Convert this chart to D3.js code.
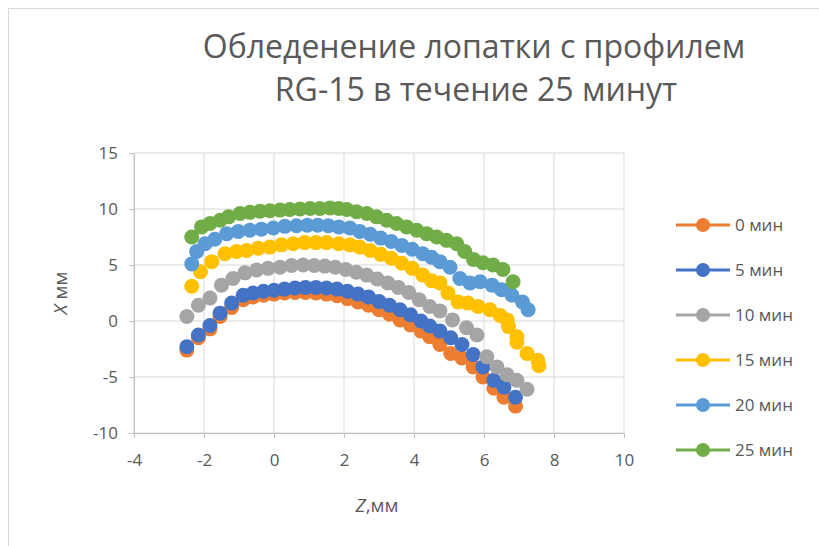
<!DOCTYPE html>
<html>
<head>
<meta charset="utf-8">
<script src="https://cdn.jsdelivr.net/npm/d3@7"></script>
<style>
  body { margin: 0; background: #fff; }
  text { font-family: "Open Sans", "Noto Sans", sans-serif; fill: #595959; }
</style>
</head>
<body>
<div id="chart"></div>
<script>
// Series values (Z, X in mm)
const seriesNames = ["0 мин", "5 мин", "10 мин", "15 мин", "20 мин", "25 мин"];
const seriesColors = ["#ED7D31", "#4472C4", "#A5A5A5", "#FFC000", "#5B9BD5", "#70AD47"];

const z0 = [-2.49, -2.16, -1.83, -1.54, -1.21, -0.88, -0.6, -0.3, 0.0, 0.3, 0.6, 0.9, 1.2, 1.5, 1.8, 2.1, 2.4, 2.7, 3.0, 3.3, 3.6, 3.9, 4.2, 4.45, 4.74, 5.05, 5.37, 5.69, 5.97, 6.28, 6.57, 6.9];
const x0 = [-2.6, -1.5, -0.7, 0.4, 1.2, 1.9, 2.15, 2.3, 2.4, 2.5, 2.55, 2.55, 2.5, 2.4, 2.25, 2.0, 1.7, 1.4, 1.0, 0.6, 0.1, -0.35, -0.9, -1.4, -2.1, -2.9, -3.3, -4.1, -5.0, -6.0, -6.8, -7.6];

const z5 = [-2.49, -2.16, -1.83, -1.54, -1.21, -0.88, -0.6, -0.3, 0.0, 0.3, 0.6, 0.9, 1.2, 1.5, 1.8, 2.1, 2.4, 2.7, 3.0, 3.3, 3.6, 3.9, 4.2, 4.45, 4.74, 5.05, 5.37, 5.69, 5.97, 6.28, 6.57, 6.9];
const x5 = [-2.3, -1.25, -0.4, 0.7, 1.6, 2.3, 2.5, 2.65, 2.75, 2.85, 2.95, 3.0, 3.0, 2.95, 2.85, 2.65, 2.4, 2.15, 1.75, 1.4, 1.0, 0.55, 0.0, -0.45, -0.9, -1.5, -2.1, -3.0, -4.1, -5.3, -5.9, -6.8];

const z10 = [-2.49, -2.16, -1.83, -1.5, -1.17, -0.83, -0.5, -0.17, 0.17, 0.5, 0.83, 1.15, 1.45, 1.75, 2.05, 2.35, 2.65, 2.95, 3.25, 3.55, 3.85, 4.15, 4.45, 4.74, 5.1, 5.5, 5.8, 6.08, 6.37, 6.66, 6.94, 7.23];
const x10 = [0.4, 1.4, 2.05, 3.2, 3.8, 4.3, 4.55, 4.7, 4.8, 4.95, 5.0, 4.95, 4.9, 4.8, 4.6, 4.35, 4.1, 3.75, 3.4, 3.0, 2.55, 1.9, 1.3, 0.9, 0.1, -0.6, -1.25, -3.2, -4.1, -4.8, -5.3, -6.1];

const z15 = [-2.35, -2.1, -1.78, -1.4, -1.07, -0.78, -0.45, -0.12, 0.21, 0.55, 0.88, 1.2, 1.5, 1.85, 2.17, 2.45, 2.75, 3.05, 3.35, 3.65, 3.95, 4.25, 4.5, 4.74, 4.97, 5.26, 5.54, 5.83, 6.17, 6.46, 6.66, 6.7, 6.94, 6.94, 7.23, 7.54, 7.57];
const x15 = [3.1, 4.4, 5.3, 6.0, 6.2, 6.3, 6.5, 6.6, 6.8, 6.9, 7.0, 7.0, 7.0, 6.9, 6.8, 6.6, 6.3, 5.95, 5.6, 5.15, 4.7, 4.1, 3.6, 3.4, 2.5, 1.7, 1.6, 1.3, 1.0, 0.5, 0.1, -0.5, -1.4, -1.9, -2.9, -3.5, -4.0];

const z20 = [-2.35, -2.21, -1.97, -1.69, -1.35, -1.02, -0.69, -0.36, -0.02, 0.31, 0.64, 0.95, 1.25, 1.55, 1.85, 2.17, 2.45, 2.75, 3.05, 3.35, 3.65, 3.95, 4.25, 4.5, 4.74, 5.03, 5.31, 5.6, 5.89, 6.23, 6.5, 6.8, 7.1, 7.26];
const x20 = [5.1, 6.2, 6.9, 7.3, 7.8, 8.0, 8.1, 8.2, 8.3, 8.45, 8.5, 8.55, 8.55, 8.5, 8.4, 8.3, 8.0, 7.75, 7.4, 7.1, 6.75, 6.4, 6.0, 5.7, 5.3, 4.8, 3.8, 3.4, 3.5, 3.2, 2.8, 2.3, 1.7, 1.0];

const z25 = [-2.35, -2.07, -1.83, -1.54, -1.3, -0.97, -0.69, -0.4, -0.12, 0.17, 0.45, 0.74, 1.03, 1.31, 1.6, 1.85, 2.08, 2.36, 2.65, 2.93, 3.22, 3.5, 3.79, 4.08, 4.36, 4.65, 4.93, 5.22, 5.45, 5.7, 5.97, 6.26, 6.54, 6.83];
const x25 = [7.5, 8.4, 8.7, 9.0, 9.3, 9.6, 9.7, 9.8, 9.85, 9.9, 9.95, 10.0, 10.05, 10.05, 10.1, 10.05, 9.95, 9.75, 9.6, 9.3, 9.0, 8.7, 8.4, 8.1, 7.8, 7.5, 7.2, 6.9, 6.2, 5.5, 5.2, 5.0, 4.6, 3.5];

const zSeries = [z0, z5, z10, z15, z20, z25];
const xSeries = [x0, x5, x10, x15, x20, x25];

const xTicks = [-4, -2, 0, 2, 4, 6, 8, 10];
const yTicks = [-10, -5, 0, 5, 10, 15];

const W = 819, H = 546;
const plot = { left: 134, right: 624, top: 153, bottom: 433 };

const svg = d3.select("#chart").append("svg")
  .attr("width", W)
  .attr("height", H);

// chart border
svg.append("rect")
  .attr("x", 8.5).attr("y", 8.5)
  .attr("width", W + 10).attr("height", H + 10)
  .attr("fill", "none")
  .attr("stroke", "#d9d9d9");

const xScale = d3.scaleLinear().domain([-4, 10]).range([plot.left, plot.right]);
const yScale = d3.scaleLinear().domain([-10, 15]).range([plot.bottom, plot.top]);

// gridlines
svg.append("g")
  .selectAll("line")
  .data(yTicks)
  .enter()
  .append("line")
  .attr("x1", plot.left).attr("x2", plot.right)
  .attr("y1", (d) => yScale(d)).attr("y2", (d) => yScale(d))
  .attr("stroke", "#d9d9d9");

svg.append("g")
  .selectAll("line")
  .data(xTicks)
  .enter()
  .append("line")
  .attr("x1", (d) => xScale(d)).attr("x2", (d) => xScale(d))
  .attr("y1", plot.top).attr("y2", plot.bottom)
  .attr("stroke", "#d9d9d9");

// axes (plain hyphen for negatives, like the original)
const plain = (d) => String(d);
const xAxis = svg.append("g")
  .attr("transform", `translate(0,${plot.bottom})`)
  .call(d3.axisBottom(xScale).tickValues(xTicks).tickFormat(plain).tickSize(5).tickSizeOuter(0));
const yAxis = svg.append("g")
  .attr("transform", `translate(${plot.left},0)`)
  .call(d3.axisLeft(yScale).tickValues(yTicks).tickFormat(plain).tickSize(5).tickSizeOuter(0));

[xAxis, yAxis].forEach((a) => {
  a.selectAll("path, line").attr("stroke", "#bfbfbf");
  a.selectAll("text").style("font-size", "17px").attr("fill", "#595959");
});
xAxis.selectAll("text").attr("y", 21);
yAxis.selectAll("text").attr("x", -16).attr("dy", "0.35em");

// markers
zSeries.forEach((zs, i) => {
  const pts = zs.map((z, j) => ({ z, x: xSeries[i][j] }));
  svg.append("g")
    .selectAll("circle")
    .data(pts)
    .enter()
    .append("circle")
    .attr("cx", (d) => xScale(d.z))
    .attr("cy", (d) => yScale(d.x))
    .attr("r", 7.5)
    .attr("fill", seriesColors[i]);
});

// title
const title = svg.append("text")
  .attr("text-anchor", "middle")
  .style("font-size", "32px");
title.append("tspan").attr("x", 474).attr("y", 58).text("Обледенение лопатки с профилем");
title.append("tspan").attr("x", 476).attr("y", 101).text("RG-15 в течение 25 минут");

// axis titles
const xt = svg.append("text")
  .attr("x", 377).attr("y", 512)
  .attr("text-anchor", "middle")
  .style("font-size", "19px");
xt.append("tspan").style("font-style", "italic").text("Z");
xt.append("tspan").text(",мм");

const yt = svg.append("text")
  .attr("transform", "translate(67,293) rotate(-90)")
  .attr("text-anchor", "middle")
  .style("font-size", "19px");
yt.append("tspan").style("font-style", "italic").text("X");
yt.append("tspan").text(" мм");

// legend
const legend = svg.append("g")
  .selectAll("g")
  .data(seriesNames)
  .enter()
  .append("g")
  .attr("transform", (d, i) => `translate(676,${225 + i * 45})`);

legend.append("line")
  .attr("x1", 0).attr("x2", 54)
  .attr("stroke", (d, i) => seriesColors[i])
  .attr("stroke-width", 3);
legend.append("circle")
  .attr("cx", 27).attr("r", 7)
  .attr("fill", (d, i) => seriesColors[i]);
legend.append("text")
  .attr("x", 59).attr("dy", "0.35em")
  .style("font-size", "17px")
  .text((d) => d);
</script>
</body>
</html>
